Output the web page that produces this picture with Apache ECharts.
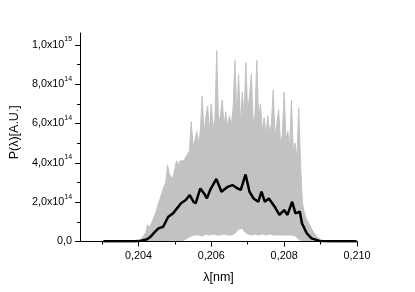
<!DOCTYPE html>
<html><head><meta charset="utf-8">
<script src="https://cdn.jsdelivr.net/npm/echarts@6/dist/echarts.min.js"></script>
<style>html,body{margin:0;padding:0;background:#fff}#c{width:415px;height:292px}</style>
</head><body><div id="c"></div>
<script>
// wavelength grid (nm) of the gray ensemble band
const bandLambda = [
 0.20395,0.20400,0.20405,0.20410,0.20415,0.20420,0.20425,0.20430,0.20435,0.20440,
 0.20445,0.20450,0.20455,0.20460,0.20465,0.20470,0.20475,0.20480,0.20485,0.20490,
 0.20495,0.20500,0.20505,0.20510,0.20515,0.20520,0.20525,0.20530,0.20535,0.20540,
 0.20545,0.20550,0.20555,0.20560,0.20565,0.20570,0.20575,0.20580,0.20585,0.20590,
 0.20595,0.20600,0.20605,0.20610,0.20615,0.20620,0.20625,0.20630,0.20635,0.20640,
 0.20645,0.20650,0.20655,0.20660,0.20665,0.20670,0.20675,0.20680,0.20685,0.20690,
 0.20695,0.20700,0.20705,0.20710,0.20715,0.20720,0.20725,0.20730,0.20735,0.20740,
 0.20745,0.20750,0.20755,0.20760,0.20765,0.20770,0.20775,0.20780,0.20785,0.20790,
 0.20795,0.20800,0.20805,0.20810,0.20815,0.20820,0.20825,0.20830,0.20835,0.20840,
 0.20845,0.20850,0.20855,0.20860,0.20865,0.20870,0.20875,0.20880,0.20885,0.20890,
 0.20895,0.20900,0.20905,0.20910,0.20915,0.20920
];
// upper envelope of the gray single-shot spectra (x1e14)
const bandTop = [
 0,0.03,0.08,0.15,0.3,0.45,0.85,0.7,0.9,1.1,
 1.35,1.6,1.95,2.2,2.5,2.8,3.0,3.9,3.4,3.3,
 3.2,3.7,4.1,3.9,4.1,4.2,4.1,4.3,4.3,4.6,
 6.1,4.9,5.1,5.6,5.0,5.6,7.4,5.5,6.3,6.9,
 5.6,7.0,5.8,6.2,9.7,6.0,6.4,7.2,5.9,6.6,
 5.8,6.4,5.9,6.8,9.2,6.3,8.5,6.0,7.6,6.4,
 9.1,6.6,7.4,8.5,6.0,6.5,9.2,6.2,7.0,5.6,
 6.3,5.4,6.4,5.5,6.0,7.7,5.3,6.0,6.7,5.0,
 5.4,7.6,5.2,5.6,4.8,7.2,4.6,5.0,4.2,6.8,
 4.0,2.0,1.5,1.2,1.0,0.85,0.65,0.5,0.35,0.22,
 0.15,0.1,0.06,0.03,0.01,0
];
// lower envelope of the gray spectra (x1e14)
const bandBottom = [
 0,0,0,0,0,0,0,0,0,0,
 0,0,0,0,0,0,0,0,0,0,
 0,0,0,0,0,0,0.05,0.1,0.15,0.2,
 0.25,0.3,0.3,0.35,0.3,0.3,0.25,0.3,0.35,0.3,
 0.3,0.3,0.35,0.3,0.3,0.25,0.3,0.3,0.35,0.3,
 0.3,0.35,0.3,0.3,0.4,0.5,0.6,0.6,0.65,0.5,
 0.4,0.35,0.3,0.3,0.3,0.35,0.3,0.3,0.3,0.35,
 0.3,0.3,0.3,0.35,0.3,0.3,0.3,0.3,0.3,0.3,
 0.3,0.3,0.35,0.3,0.3,0.3,0.3,0.25,0.2,0.1,
 0,0,0,0,0,0,0,0,0,0,
 0,0,0,0,0,0
];
// averaged spectrum (black)
const meanLambda = [
 0.20304,0.20344,0.20389,0.20402,0.20424,0.20433,0.20446,0.20455,0.20468,0.20482,
 0.20495,0.20499,0.20517,0.20530,0.20541,0.20551,0.20557,0.20570,0.20583,0.20588,
 0.20597,0.20614,0.20628,0.20645,0.20658,0.20672,0.20681,0.20694,0.20705,0.20716,
 0.20729,0.20738,0.20747,0.20758,0.20774,0.20787,0.20800,0.20809,0.20822,0.20831,
 0.20843,0.20849,0.20862,0.20875,0.20897,0.20928,0.20999
];
const meanPower = [
 0.01,0.01,0.01,0.02,0.11,0.24,0.50,0.67,0.75,1.26,
 1.43,1.51,1.94,2.11,2.36,2.02,1.94,2.70,2.36,2.19,
 2.62,3.18,2.53,2.78,2.87,2.70,2.62,3.41,2.53,2.19,
 2.02,2.53,2.02,2.19,1.77,1.35,1.60,1.35,2.02,1.43,
 1.52,0.92,0.42,0.16,0.03,0.01,0.01
];
const xMajorTicks = [0.204,0.206,0.208,0.210];
const xMinorTicks = [0.203,0.205,0.207,0.209];
const yMajorTicks = [0,2,4,6,8,10];
const yMinorTicks = [1,3,5,7,9];

const FONT = '"Liberation Sans", Arial, sans-serif';
const chart = echarts.init(document.getElementById('c'), null, {renderer:'canvas'});
const xRange = {min:0.2024, max:0.210};
const yRange = {min:0, max:10.6};
function yFmt(v){
  if (v === 0) return '{m|0,0}';
  if (v >= 10) return '{m|' + (v/10).toFixed(1).replace('.',',') + 'x10}{s|15}';
  return '{m|' + v.toFixed(1).replace('.',',') + 'x10}{s|14}';
}
chart.setOption({
  animation:false,
  backgroundColor:'#fff',
  grid:{left:73, right:58, top:33, bottom:50.5, containLabel:false},
  xAxis:[{
    type:'value', ...xRange, z:10,
    name:'λ[nm]', nameLocation:'middle', nameGap:30,
    nameTextStyle:{fontFamily:FONT, fontSize:12.5, color:'#000'},
    axisLine:{show:true, lineStyle:{color:'#000', width:1}},
    axisTick:{show:true, length:5, customValues:xMajorTicks, lineStyle:{color:'#000'}},
    axisLabel:{customValues:xMajorTicks, margin:9, fontFamily:FONT, fontSize:10.8, color:'#000',
      formatter:v=>v.toFixed(3).replace('.',',')},
    splitLine:{show:false}
  },{
    type:'value', ...xRange, position:'bottom', z:10,
    axisLine:{show:false},
    axisTick:{show:true, length:3, customValues:xMinorTicks, lineStyle:{color:'#000'}},
    axisLabel:{show:false}, splitLine:{show:false}
  }],
  yAxis:[{
    type:'value', ...yRange, z:10,
    name:'P(λ)[A.U.]', nameLocation:'middle', nameGap:56, nameRotate:90,
    nameTextStyle:{fontFamily:FONT, fontSize:12.5, color:'#000', padding:[0,0,0,10]},
    axisLine:{show:true, lineStyle:{color:'#000', width:1}},
    axisTick:{show:true, length:5, customValues:yMajorTicks, lineStyle:{color:'#000'}},
    axisLabel:{customValues:yMajorTicks, margin:8, formatter:yFmt,
      rich:{
        m:{fontFamily:FONT, fontSize:10.8, color:'#000', lineHeight:18},
        s:{fontFamily:FONT, fontSize:7, color:'#000', verticalAlign:'top', lineHeight:9}
      }},
    splitLine:{show:false}
  },{
    type:'value', ...yRange, position:'left', z:10,
    axisLine:{show:false},
    axisTick:{show:true, length:3, customValues:yMinorTicks, lineStyle:{color:'#000'}},
    axisLabel:{show:false}, splitLine:{show:false}
  }],
  series:[
    {type:'line', xAxisIndex:0, yAxisIndex:0, symbol:'none', silent:true, z:2,
     lineStyle:{color:'#c2c2c2', width:1},
     areaStyle:{color:'#c2c2c2', opacity:1, origin:'start'},
     data: bandLambda.map((x,i)=>[x, bandTop[i]])},
    {type:'line', xAxisIndex:0, yAxisIndex:0, symbol:'none', silent:true, z:3,
     lineStyle:{color:'#fff', width:0, opacity:0},
     areaStyle:{color:'#fff', opacity:1, origin:'start'},
     data: bandLambda.map((x,i)=>[x, bandBottom[i]])},
    {type:'line', xAxisIndex:0, yAxisIndex:0, symbol:'none', silent:true, z:4,
     lineStyle:{color:'#000', width:2.5},
     data: meanLambda.map((x,i)=>[x, meanPower[i]])}
  ]
});
</script></body></html>
